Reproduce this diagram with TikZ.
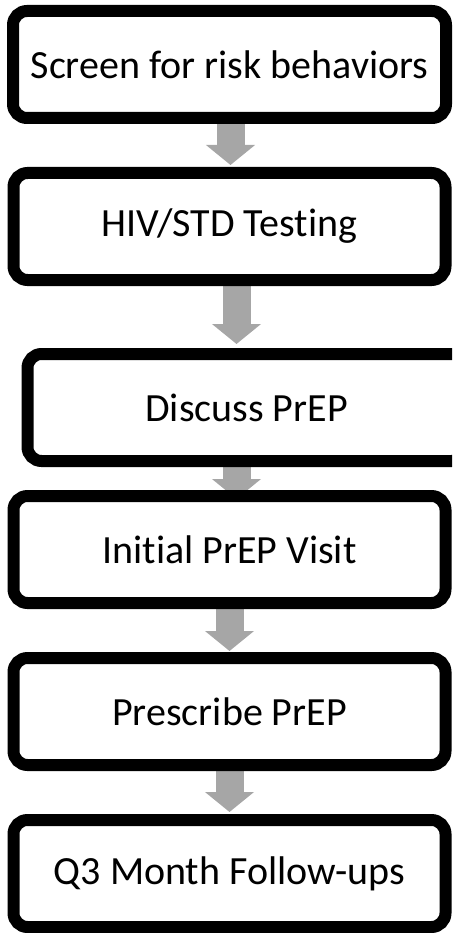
\documentclass[tikz,border=0pt]{standalone}
\usepackage{xcolor}
\usepackage{fontspec}
\setmainfont{Carlito}[Ligatures=NoCommon]
\usepackage{tikz}
\usetikzlibrary{shapes,arrows.meta,positioning,backgrounds}
\definecolor{arrowgray}{RGB}{166,166,166}
\tikzstyle{block} = [rectangle, draw, fill=white, line width=12pt,
    minimum width=432pt, minimum height=107pt, inner sep=0pt,
    rounded corners=14pt, font=\fontsize{40}{48}\selectfont]
\tikzstyle{line} = [draw=arrowgray, line width=28pt,
    -{Triangle[length=20pt, width=48pt]}, arrowgray]

\begin{document}
\begin{tikzpicture}[node distance=43pt]
    \useasboundingbox (0,0) rectangle (452pt,-933pt);
    \clip (0,0) rectangle (452pt,-933pt);
    % Nodes
    \node [block, minimum width=433pt] (screen) at (229.5pt,-64.5pt) {Screen for risk behaviors};
    \node [block, below=of screen] (testing) {HIV/STD Testing};
    \node [block, below=62pt of testing, xshift=17pt, minimum width=438pt] (discuss) {Discuss PrEP};
    \node [block, below=23pt of discuss, xshift=-17pt] (initial) {Initial PrEP Visit};
    \node [block, below=of initial] (prescribe) {Prescribe PrEP};
    \node [block, below=of prescribe] (followup) {Q3 Month Follow-ups};

    % Edges
    \begin{scope}[on background layer]
    \path [line] ([xshift=1pt]screen.south) -- ([xshift=1pt, yshift=2pt]testing.north);
    \path [line] ([xshift=7pt]testing.south) -- ([xshift=-10pt, yshift=4pt]discuss.north);
    \path [line] ([xshift=-10pt, yshift=10pt]discuss.south) -- ([xshift=7pt, yshift=-9pt]initial.north);
    \path [line] (initial.south) -- ([yshift=1pt]prescribe.north);
    \path [line] (prescribe.south) -- ([yshift=2pt]followup.north);
    \end{scope}
\end{tikzpicture}
\end{document}
